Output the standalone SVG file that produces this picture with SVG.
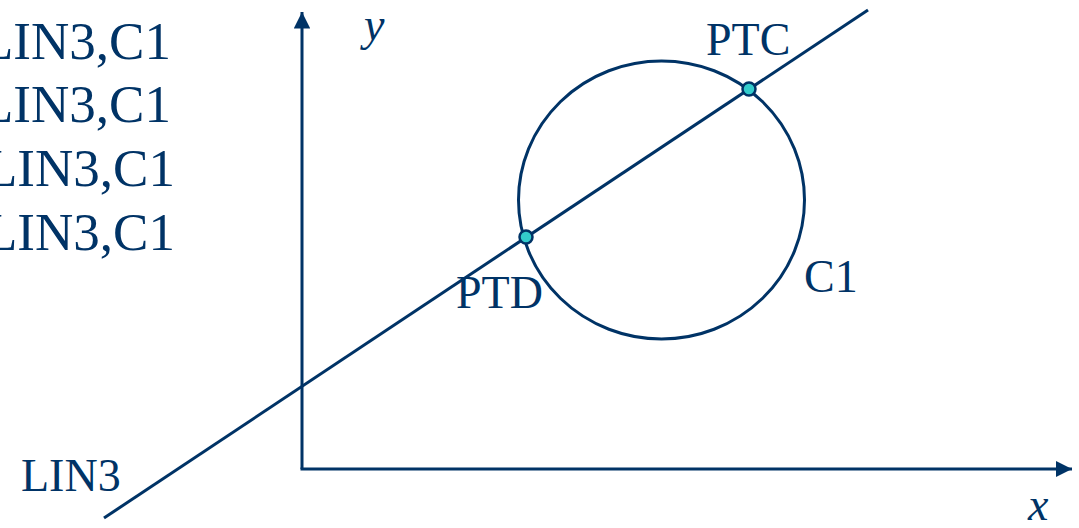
<svg xmlns="http://www.w3.org/2000/svg" width="1079" height="528" viewBox="0 0 1079 528">
<style>
.t{font-family:"Liberation Serif","Times New Roman",serif;font-size:46px;fill:#003366}
.big{font-size:53px}
.i{font-style:italic}
.ln{stroke:#003366;stroke-width:3;fill:none}
.pt{fill:#33CCCC;stroke:#003366;stroke-width:2.5}
</style>
<defs>
<marker id="ah" viewBox="0 0 10 10" refX="10" refY="5" markerWidth="5.5" markerHeight="5.5" orient="auto" markerUnits="strokeWidth">
<path d="M0,0 L10,5 L0,10 z" fill="#003366"/>
</marker>
</defs>
<g id="labels-left">
<text class="t big" x="-19" y="59">LIN3,C1</text>
<text class="t big" x="-19" y="122">LIN3,C1</text>
<text class="t big" x="-15" y="186">LIN3,C1</text>
<text class="t big" x="-15" y="250">LIN3,C1</text>
</g>
<g id="connectors">
<line class="ln" x1="302" y1="469" x2="302" y2="12" marker-end="url(#ah)"/>
<line class="ln" x1="300.5" y1="469" x2="1072" y2="469" marker-end="url(#ah)"/>
<line class="ln" x1="104" y1="518" x2="868" y2="10"/>
</g>
<g id="axis-y"><text class="t i" x="364" y="40">y</text></g>
<g id="axis-x"><text class="t i" x="1028" y="520">x</text></g>
<g id="C1">
<ellipse class="ln" cx="661.5" cy="200" rx="143" ry="139"/>
<text class="t" x="804" y="292">C1</text>
</g>
<g id="LIN3"><text class="t" x="21" y="491">LIN3</text></g>
<g id="PTC">
<circle class="pt" cx="749" cy="89" r="6.5"/>
<text class="t" x="706" y="55">PTC</text>
</g>
<g id="PTD">
<circle class="pt" cx="526" cy="237" r="6.5"/>
<text class="t" x="456" y="308">PTD</text>
</g>
</svg>
